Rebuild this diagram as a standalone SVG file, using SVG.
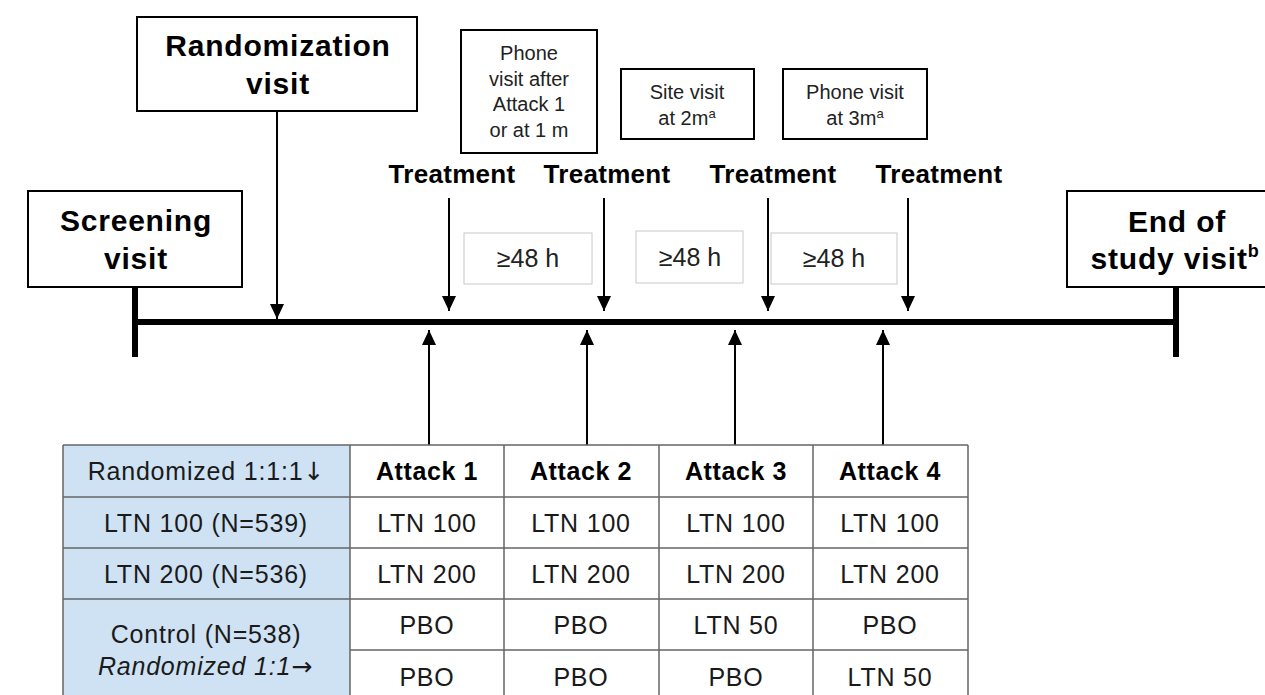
<svg xmlns="http://www.w3.org/2000/svg" width="1265" height="695" viewBox="0 0 1265 695">
<defs>
<marker id="ah" viewBox="0 0 15 14" refX="15" refY="7" markerWidth="15" markerHeight="14" markerUnits="userSpaceOnUse" orient="auto"><path d="M0,0 L15,7 L0,14 z" fill="#000"/></marker>
</defs>
<style>
text{font-family:"Liberation Sans",Arial,sans-serif;text-anchor:middle;}
.box{fill:#fff;stroke:#000;stroke-width:2;}
.gbox{fill:#fff;stroke:#c8c8c8;stroke-width:1;}
.big{font-size:30px;font-weight:bold;fill:#000;letter-spacing:0.8px;}
.tr{font-size:26px;font-weight:bold;fill:#000;letter-spacing:0.3px;}
.sm{font-size:20px;fill:#222;}
.h48{font-size:25px;fill:#222;}
.tb{font-size:25px;fill:#1a1a1a;letter-spacing:0.8px;}
.tbb{font-size:25px;font-weight:bold;fill:#000;letter-spacing:0.6px;}
.sup{font-size:13px;}
.ar{font-family:"DejaVu Sans",sans-serif;}
.arr{stroke:#000;stroke-width:2;fill:none;marker-end:url(#ah);}
.thick{stroke:#000;stroke-width:6;fill:none;}
.grid{stroke:#666;stroke-width:1.5;fill:none;}
.blue{fill:#cfe2f3;}
</style>

<g id="connectors">
<line class="thick" x1="135" y1="322" x2="1176" y2="322"/>
<line class="thick" x1="135" y1="287" x2="135" y2="357"/>
<line class="thick" x1="1176" y1="287" x2="1176" y2="357"/>
<line class="arr" x1="277" y1="111" x2="277" y2="319"/>
<line class="arr" x1="449" y1="198" x2="449" y2="311"/>
<line class="arr" x1="604" y1="198" x2="604" y2="311"/>
<line class="arr" x1="768" y1="198" x2="768" y2="311"/>
<line class="arr" x1="908" y1="198" x2="908" y2="311"/>
<line class="arr" x1="429" y1="445" x2="429" y2="330"/>
<line class="arr" x1="587" y1="445" x2="587" y2="330"/>
<line class="arr" x1="735" y1="445" x2="735" y2="330"/>
<line class="arr" x1="883" y1="445" x2="883" y2="330"/>
</g>

<g id="randomization">
<rect class="box" x="137" y="17" width="280" height="94"/>
<text class="big" x="278" y="56">Randomization</text>
<text class="big" x="278" y="94">visit</text>
</g>
<g id="screening">
<rect class="box" x="28" y="191" width="214" height="96"/>
<text class="big" x="136" y="231">Screening</text>
<text class="big" x="136" y="269">visit</text>
</g>
<g id="end-of-study">
<rect class="box" x="1067" y="191" width="202" height="96"/>
<text class="big" x="1177" y="232">End of</text>
<text class="big" x="1175" y="269">study visit<tspan font-size="18" dy="-12">b</tspan></text>
</g>

<g id="phone-visit-1">
<rect class="box" x="461" y="30" width="136" height="123"/>
<text class="sm" x="529" y="60">Phone</text>
<text class="sm" x="529" y="86">visit after</text>
<text class="sm" x="529" y="111">Attack 1</text>
<text class="sm" x="529" y="137">or at 1 m</text>
</g>
<g id="site-visit">
<rect class="box" x="621" y="69" width="133" height="70"/>
<text class="sm" x="687" y="99">Site visit</text>
<text class="sm" x="687" y="125">at 2m<tspan class="sup" dy="-7">a</tspan></text>
</g>
<g id="phone-visit-3">
<rect class="box" x="783" y="69" width="144" height="70"/>
<text class="sm" x="855" y="99">Phone visit</text>
<text class="sm" x="855" y="125">at 3m<tspan class="sup" dy="-7">a</tspan></text>
</g>

<g id="treatment-1"><text class="tr" x="452" y="183">Treatment</text></g>
<g id="treatment-2"><text class="tr" x="607" y="183">Treatment</text></g>
<g id="treatment-3"><text class="tr" x="773" y="183">Treatment</text></g>
<g id="treatment-4"><text class="tr" x="939" y="183">Treatment</text></g>

<g id="interval-1">
<rect class="gbox" x="464" y="233" width="128" height="51"/>
<text class="h48" x="528" y="267">≥48 h</text>
</g>
<g id="interval-2">
<rect class="gbox" x="636" y="231" width="107" height="52"/>
<text class="h48" x="690" y="266">≥48 h</text>
</g>
<g id="interval-3">
<rect class="gbox" x="771" y="233" width="126" height="51"/>
<text class="h48" x="834" y="267">≥48 h</text>
</g>

<g id="table">
<rect class="blue" x="63" y="445" width="287" height="260"/>
<rect fill="#fff" x="350" y="445" width="618" height="260"/>
<path class="grid" d="M63,445 H968 M63,497 H968 M63,548 H968 M63,599 H968 M350,650 H968 M63,445 V700 M350,445 V700 M504,445 V700 M659,445 V700 M813,445 V700 M968,445 V700"/>
<text class="tb" x="206" y="480">Randomized  1:1:1<tspan class="ar" letter-spacing="0">↓</tspan></text>
<text class="tb" x="206" y="532">LTN 100 (N=539)</text>
<text class="tb" x="206" y="583">LTN 200 (N=536)</text>
<text class="tb" x="206" y="643">Control (N=538)</text>
<text class="tb" x="205" y="675" font-style="italic">Randomized 1:1<tspan class="ar" font-style="normal" letter-spacing="0">→</tspan></text>
<text class="tbb" x="427" y="480">Attack 1</text>
<text class="tbb" x="581" y="480">Attack 2</text>
<text class="tbb" x="736" y="480">Attack 3</text>
<text class="tbb" x="890" y="480">Attack 4</text>
<text class="tb" x="427" y="532">LTN 100</text>
<text class="tb" x="581" y="532">LTN 100</text>
<text class="tb" x="736" y="532">LTN 100</text>
<text class="tb" x="890" y="532">LTN 100</text>
<text class="tb" x="427" y="583">LTN 200</text>
<text class="tb" x="581" y="583">LTN 200</text>
<text class="tb" x="736" y="583">LTN 200</text>
<text class="tb" x="890" y="583">LTN 200</text>
<text class="tb" x="427" y="634">PBO</text>
<text class="tb" x="581" y="634">PBO</text>
<text class="tb" x="736" y="634">LTN 50</text>
<text class="tb" x="890" y="634">PBO</text>
<text class="tb" x="427" y="686">PBO</text>
<text class="tb" x="581" y="686">PBO</text>
<text class="tb" x="736" y="686">PBO</text>
<text class="tb" x="890" y="686">LTN 50</text>
</g>
</svg>
